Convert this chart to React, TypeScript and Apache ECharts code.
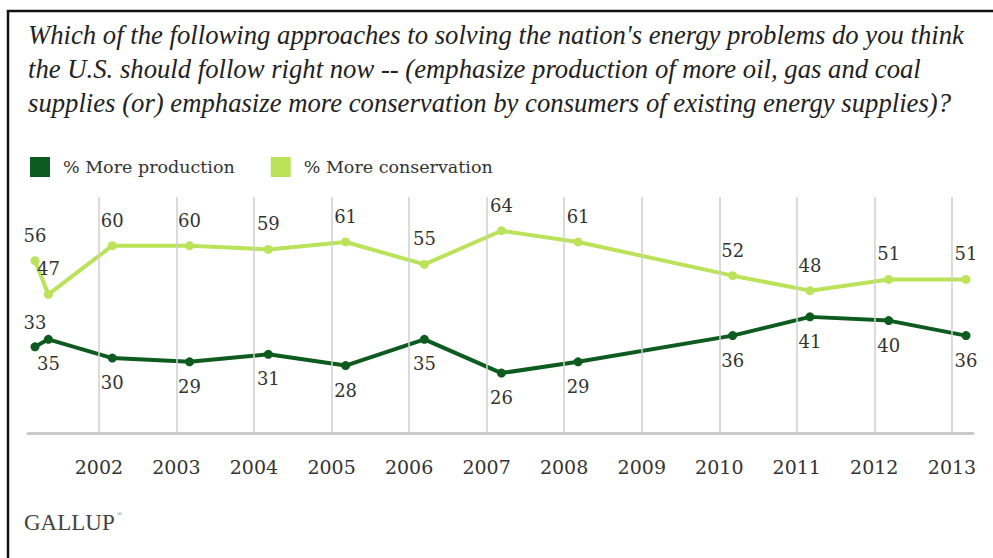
import React, { useEffect, useRef } from "react";
import * as echarts from "echarts";

const TITLE_LINES = [
  "Which of the following approaches to solving the nation's energy problems do you think",
  "the U.S. should follow right now -- (emphasize production of more oil, gas and coal",
  "supplies (or) emphasize more conservation by consumers of existing energy supplies)?",
];
const SERIES_NAMES = ["% More production", "% More conservation"];
const POLL_DATES = [
  "2001-03-06", "2001-05-08", "2002-03-05", "2003-03-04", "2004-03-09", "2005-03-08",
  "2006-03-14", "2007-03-12", "2008-03-07", "2010-03-05", "2011-03-04", "2012-03-09", "2013-03-08",
];
const PRODUCTION = [33, 35, 30, 29, 31, 28, 35, 26, 29, 36, 41, 40, 36];
const CONSERVATION = [56, 47, 60, 60, 59, 61, 55, 64, 61, 52, 48, 51, 51];
const YEAR_TICKS = [2002, 2003, 2004, 2005, 2006, 2007, 2008, 2009, 2010, 2011, 2012, 2013];

const DARK = "#0e5b20";
const LIGHT = "#bae35a";
const SERIF = "DejaVu Serif";

export default function App() {
  const ref = useRef<HTMLDivElement>(null);
  useEffect(() => {
    document.body.style.margin = "0";
    if (!ref.current) return;
    const chart = echarts.init(ref.current, null, { renderer: "svg" });
    const labelBase = { show: true, fontFamily: SERIF, fontSize: 18, color: "#333" };
    chart.setOption({
      animation: false,
      backgroundColor: "#fff",
      grid: { left: 28, right: 20, top: 197, bottom: 125 },
      xAxis: {
        type: "time",
        min: "2001-02-01",
        max: "2013-04-10",
        axisLine: { show: true, lineStyle: { color: "#c9c9c9", width: 3 } },
        axisTick: { show: false },
        axisLabel: { show: false },
        splitLine: { show: false },
      },
      yAxis: { type: "value", min: 10, max: 73, show: false, splitLine: { show: false } },
      legend: {
        data: SERIES_NAMES,
        left: 25,
        top: 152,
        icon: "rect",
        itemWidth: 20,
        itemHeight: 20,
        itemGap: 36,
        textStyle: { fontFamily: SERIF, fontSize: 17.5, color: "#333", padding: [0, 0, 0, 8] },
      },
      graphic: [
        {
          type: "rect",
          shape: { x: 8, y: 11, width: 1100, height: 700 },
          style: { fill: "none", stroke: "#111", lineWidth: 2.5 },
          silent: true,
        },
        {
          type: "text",
          x: 28,
          y: 18,
          style: {
            text: TITLE_LINES.join("\n"),
            fontFamily: "Liberation Serif",
            fontStyle: "italic",
            fontSize: 26.7,
            lineHeight: 34,
            fill: "#222",
            textVerticalAlign: "top",
          },
        },
        {
          type: "text",
          x: 24,
          y: 522,
          style: {
            text: "GALLUP",
            fontFamily: "Liberation Serif",
            fontSize: 23,
            fill: "#444",
            textVerticalAlign: "middle",
          },
        },
        {
          type: "text",
          x: 117,
          y: 514,
          style: { text: "®", fontFamily: "Liberation Serif", fontSize: 7, fill: "#777", textVerticalAlign: "middle" },
        },
      ],
      series: [
        {
          name: "grid",
          type: "line",
          data: [],
          z: 1,
          silent: true,
          markLine: {
            silent: true,
            symbol: "none",
            lineStyle: { color: "#cfcfcf", width: 1.5, type: "solid" },
            label: {
              show: true,
              position: "start",
              distance: 24,
              fontFamily: SERIF,
              fontSize: 19,
              color: "#333",
              formatter: (p: any) => p.name,
            },
            data: YEAR_TICKS.map((y) => ({ name: String(y), xAxis: `${y}-01-01` })),
          },
        },
        {
          name: SERIES_NAMES[0],
          type: "line",
          z: 3,
          color: DARK,
          symbol: "circle",
          symbolSize: 9,
          lineStyle: { width: 4, color: DARK },
          itemStyle: { color: DARK },
          data: POLL_DATES.map((d, i) => ({
            value: [d, PRODUCTION[i]],
            label: { ...labelBase, position: i === 0 ? "top" : "bottom", distance: 11 },
          })),
        },
        {
          name: SERIES_NAMES[1],
          type: "line",
          z: 3,
          color: LIGHT,
          symbol: "circle",
          symbolSize: 9,
          lineStyle: { width: 4, color: LIGHT },
          itemStyle: { color: LIGHT },
          data: POLL_DATES.map((d, i) => ({
            value: [d, CONSERVATION[i]],
            label: { ...labelBase, position: "top", distance: 12 },
          })),
        },
      ],
    });
    return () => chart.dispose();
  }, []);
  return <div ref={ref} style={{ width: 993, height: 558 }} />;
}
